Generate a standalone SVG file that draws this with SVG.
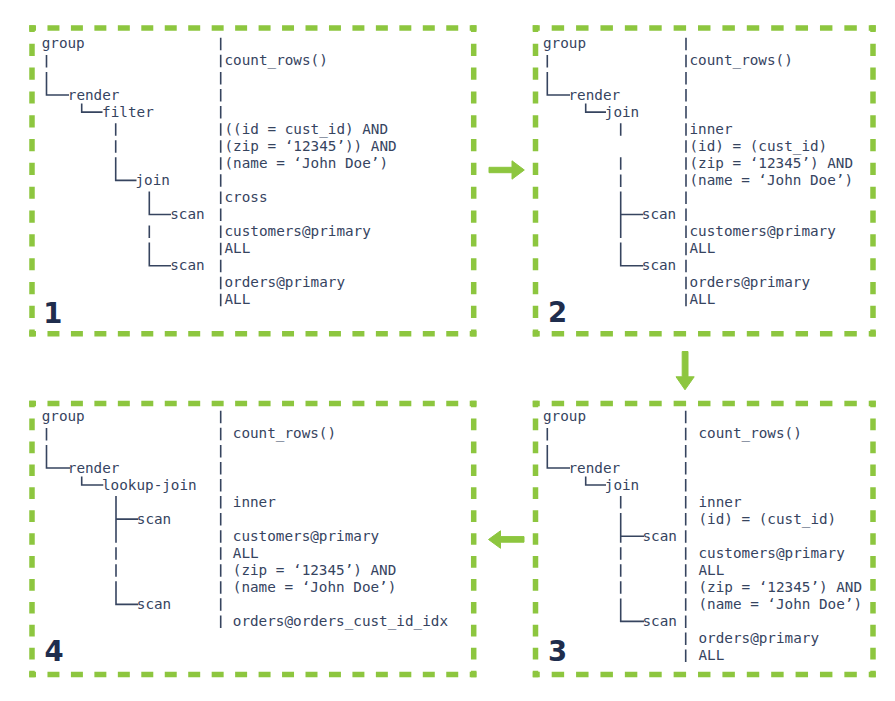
<svg xmlns="http://www.w3.org/2000/svg" width="895" height="701" viewBox="0 0 895 701">
<style>
.t{font-family:"DejaVu Sans Mono","Liberation Mono",monospace;font-size:14.3px;fill:#36445f}
.n{font-family:"DejaVu Sans","Liberation Sans",sans-serif;font-size:27.5px;font-weight:bold;fill:#1f2d4d}
.tree{fill:none;stroke:#36445f;stroke-width:1.6}
.sepT{fill:none;stroke:#36445f;stroke-width:1.6;stroke-dasharray:12.5 4.57}
.sepB{fill:none;stroke:#36445f;stroke-width:1.6;stroke-dasharray:12.5 4.55}
.box{fill:none;stroke:#8dc63f;stroke-width:5.5;stroke-dasharray:12 11.5;stroke-dashoffset:5.25}
.arrow{fill:#8dc63f;stroke:#8dc63f;stroke-width:1;stroke-linejoin:round}
</style>
<rect width="895" height="701" fill="#ffffff"/>

<g id="panel1">
<path class="box" pathLength="448" d="M29.25 28H476.45"/>
<path class="box" pathLength="448" d="M29.25 333.7H476.45"/>
<path class="box" pathLength="307" d="M32 25.25V336.45"/>
<path class="box" pathLength="307" d="M473.7 25.25V336.45"/>
<path class="sepT" d="M220.7 37.8V306.3"/>
<path class="tree" d="M46.5 54.9V67.4M46.5 71.9V95H69M81.7 103.6V112.1H102.5M115.7 123.2V135.7M115.7 140.2V152.7M115.7 157.3V180.4H136.5M149.3 191.4V214.5H171M149.3 225.6V238.1M149.3 242.6V265.7H171"/>
<text class="t" x="41.7" y="48.3">group</text>
<text class="t" x="224.5" y="65.4">count_rows()</text>
<text class="t" x="67.8" y="99.5">render</text>
<text class="t" x="102.1" y="116.6">filter</text>
<text class="t" x="224.5" y="133.7">((id = cust_id) AND</text>
<text class="t" x="224.5" y="150.7">(zip = ‘12345’)) AND</text>
<text class="t" x="224.5" y="167.8">(name = ‘John Doe’)</text>
<text class="t" x="135.5" y="184.9">join</text>
<text class="t" x="224.5" y="201.9">cross</text>
<text class="t" x="170.2" y="219">scan</text>
<text class="t" x="224.5" y="236.1">customers@primary</text>
<text class="t" x="224.5" y="253.1">ALL</text>
<text class="t" x="170.2" y="270.2">scan</text>
<text class="t" x="224.5" y="287.3">orders@primary</text>
<text class="t" x="224.5" y="304.3">ALL</text>
<text class="n" x="43.3" y="322.5">1</text>
</g>

<g id="panel2">
<path class="box" pathLength="330.5" d="M532.75 28H875.75"/>
<path class="box" pathLength="330.5" d="M532.75 333.7H875.75"/>
<path class="box" pathLength="307" d="M535.5 25.25V336.45"/>
<path class="box" pathLength="307" d="M873 25.25V336.45"/>
<path class="sepT" d="M686 37.8V306.3"/>
<path class="tree" d="M547.3 54.9V67.4M547.3 71.9V95H570M585.7 103.6V112.1H606M620.7 123.2V135.7M620.7 157.3V169.8M620.7 174.4V186.9M620.7 191.4V238.1M620.7 214.5H643.3M620.7 242.6V265.7H643.3"/>
<text class="t" x="543" y="48.3">group</text>
<text class="t" x="689.5" y="65.4">count_rows()</text>
<text class="t" x="568.5" y="99.5">render</text>
<text class="t" x="604.8" y="116.6">join</text>
<text class="t" x="689.5" y="133.7">inner</text>
<text class="t" x="689.5" y="150.7">(id) = (cust_id)</text>
<text class="t" x="689.5" y="167.8">(zip = ‘12345’) AND</text>
<text class="t" x="689.5" y="184.9">(name = ‘John Doe’)</text>
<text class="t" x="641.8" y="219">scan</text>
<text class="t" x="689.5" y="236.1">customers@primary</text>
<text class="t" x="689.5" y="253.1">ALL</text>
<text class="t" x="641.8" y="270.2">scan</text>
<text class="t" x="689.5" y="287.3">orders@primary</text>
<text class="t" x="689.5" y="304.3">ALL</text>
<text class="n" x="548" y="321.5">2</text>
</g>

<g id="panel3">
<path class="box" pathLength="330.5" d="M532.75 403.5H875.75"/>
<path class="box" pathLength="330.5" d="M532.75 674.5H875.75"/>
<path class="box" pathLength="283.5" d="M535.5 400.75V677.25"/>
<path class="box" pathLength="283.5" d="M873 400.75V677.25"/>
<path class="sepB" d="M685.7 410.8V662"/>
<path class="tree" d="M547.3 427.9V440.4M547.3 444.9V468H570M585.7 476.5V485H606M620.7 496.1V508.6M620.7 513.1V542.7M620.7 536.2H644M620.7 547.2V559.7M620.7 564.3V576.8M620.7 581.3V593.8M620.7 598.4V621.4H644"/>
<text class="t" x="543" y="421.3">group</text>
<text class="t" x="698.5" y="438.4">count_rows()</text>
<text class="t" x="568.5" y="472.5">render</text>
<text class="t" x="604.8" y="489.5">join</text>
<text class="t" x="698.5" y="506.6">inner</text>
<text class="t" x="698.5" y="523.6">(id) = (cust_id)</text>
<text class="t" x="642.5" y="540.7">scan</text>
<text class="t" x="698.5" y="557.7">customers@primary</text>
<text class="t" x="698.5" y="574.8">ALL</text>
<text class="t" x="698.5" y="591.8">(zip = ‘12345’) AND</text>
<text class="t" x="698.5" y="608.9">(name = ‘John Doe’)</text>
<text class="t" x="642.5" y="625.9">scan</text>
<text class="t" x="698.5" y="643">orders@primary</text>
<text class="t" x="698.5" y="660">ALL</text>
<text class="n" x="548" y="660.5">3</text>
</g>

<g id="panel4">
<path class="box" pathLength="448" d="M29.25 403.5H476.45"/>
<path class="box" pathLength="448" d="M29.25 674.5H476.45"/>
<path class="box" pathLength="283.5" d="M32 400.75V677.25"/>
<path class="box" pathLength="283.5" d="M473.7 400.75V677.25"/>
<path class="sepB" d="M220.7 410.8V627.9"/>
<path class="tree" d="M46.5 427.9V440.4M46.5 444.9V468H70M81.7 476.5V485H103.3M116 496.1V542.7M116 519.1H138.3M116 547.2V559.7M116 564.3V576.8M116 581.3V604.4H138.3"/>
<text class="t" x="41.7" y="421.3">group</text>
<text class="t" x="232.8" y="438.4">count_rows()</text>
<text class="t" x="67.8" y="472.5">render</text>
<text class="t" x="102" y="489.5">lookup-join</text>
<text class="t" x="232.8" y="506.6">inner</text>
<text class="t" x="136.8" y="523.6">scan</text>
<text class="t" x="232.8" y="540.7">customers@primary</text>
<text class="t" x="232.8" y="557.7">ALL</text>
<text class="t" x="232.8" y="574.8">(zip = ‘12345’) AND</text>
<text class="t" x="232.8" y="591.8">(name = ‘John Doe’)</text>
<text class="t" x="136.8" y="608.9">scan</text>
<text class="t" x="232.8" y="625.9">orders@orders_cust_id_idx</text>
<text class="n" x="44.5" y="661">4</text>
</g>

<g id="connectors">
<path class="arrow" d="M489 167.3H512V160.8L524.3 170L512 179.2V172.7H489Z"/>
<path class="arrow" d="M682.2 351.5V376.8H676L685 389.8L694.2 376.8H688V351.5Z"/>
<path class="arrow" d="M524 536.6H500.5V530.8L488.5 539.5L500.5 548.3V542.2H524Z"/>
</g>
</svg>
